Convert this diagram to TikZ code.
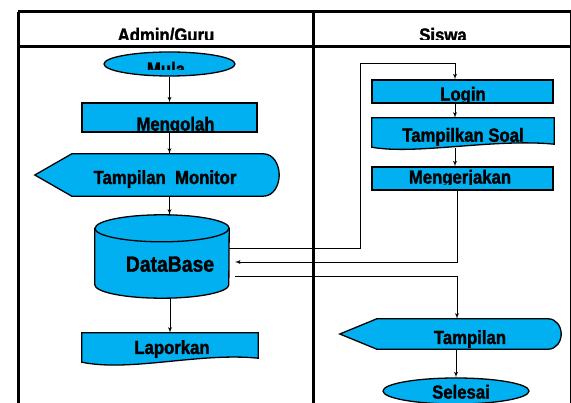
\documentclass[tikz,border=0pt]{standalone}
\usepackage{fontspec}
\setmainfont{Liberation Sans}[FakeStretch=0.88,BoldFeatures={FakeBold=1.5}]
\usepackage{tikz}
\usetikzlibrary{arrows}
\usetikzlibrary{shapes.geometric}
\definecolor{boxblue}{RGB}{0,176,240}

% text that is cut off below a given height
\newcommand{\cuttext}[5]{%
\begin{scope}
\clip (#2-110,#4) rectangle (#2+110,#4+40);
\node[boxtext,anchor=base] (#1) at (#2,#3) {#5};
\end{scope}}

\begin{document}
\begin{tikzpicture}[x=1pt,y=1pt]
\tikzset{proc/.style = {shape=rectangle,draw,fill=boxblue,line width=1.3pt,inner sep=0pt}}
\tikzset{term/.style = {shape=ellipse,draw,fill=boxblue,line width=1.3pt,inner sep=0pt}}
\tikzset{frame/.style = {shape=rectangle,inner sep=0pt}}
\tikzset{shapeline/.style = {draw,fill=boxblue,line width=1.3pt}}
\tikzset{boxtext/.style = {font=\bfseries\fontsize{19pt}{19pt}\selectfont,inner sep=0pt}}
\tikzset{edge/.style = {->,> = latex',line width=0.9pt}}
\tikzset{lane/.style = {line width=3pt}}

\useasboundingbox (0,0) rectangle (571,-403);

% swimlanes
\draw[lane] (18,-12) -- (571,-12);
\draw[lane] (18,-47) -- (570,-47);
\draw[lane] (18,-12) -- (18,-403);
\draw[lane] (313,-12) -- (313,-403);
\draw[line width=0.8pt] (570,-12) -- (570,-403);
\cuttext{admin}{166}{-41.6}{-39.5}{Admin/Guru}
\cuttext{siswa}{443}{-41.6}{-39.5}{Siswa}

\node[term,minimum width=131pt,minimum height=24pt] (mula) at (169.5,-64) {};
\node[proc,minimum width=175pt,minimum height=29pt] (mengolah) at (169.5,-117.5) {};
\node[frame,minimum width=244pt,minimum height=42pt] (monitor) at (157,-175) {};
\node[frame,minimum width=134pt,minimum height=83pt] (db) at (162,-256.5) {};
\node[frame,minimum width=176pt,minimum height=33pt] (laporkan) at (170,-349.5) {};
\node[proc,minimum width=181pt,minimum height=23pt] (login) at (462.5,-91.5) {};
\node[frame,minimum width=182pt,minimum height=32pt] (soal) at (463,-134) {};
\node[proc,minimum width=181pt,minimum height=23pt] (kerja) at (462.5,-178.5) {};
\node[frame,minimum width=221pt,minimum height=30pt] (tampil) at (450.5,-334) {};
\node[term,minimum width=146pt,minimum height=26pt] (selesai) at (456,-391) {};

% display shapes
\filldraw[shapeline] (monitor.west) -- ([xshift=37pt]monitor.north west)
  -- ([xshift=-16pt]monitor.north east) to[out=0,in=90] (monitor.east)
  to[out=-90,in=0] ([xshift=-16pt]monitor.south east)
  -- ([xshift=37pt]monitor.south west) -- cycle;
\filldraw[shapeline] (tampil.west) -- ([xshift=37pt]tampil.north west)
  -- ([xshift=-13pt]tampil.north east) to[out=0,in=90] (tampil.east)
  to[out=-90,in=0] ([xshift=-13pt]tampil.south east)
  -- ([xshift=37pt]tampil.south west) -- cycle;

% database
\filldraw[shapeline] ([yshift=-13.5pt]db.north west) -- ([yshift=13.5pt]db.south west)
  arc[start angle=180,end angle=360,x radius=67pt,y radius=13.5pt]
  -- ([yshift=-13.5pt]db.north east)
  arc[start angle=0,end angle=180,x radius=67pt,y radius=13.5pt] -- cycle;
\draw[line width=1.3pt] ([yshift=-13.5pt]db.north west)
  arc[start angle=180,end angle=360,x radius=67pt,y radius=13.5pt];

% documents
\filldraw[shapeline] (laporkan.north west) -- (laporkan.north east)
  -- ([yshift=8pt]laporkan.south east)
  .. controls ([xshift=-58pt,yshift=14pt]laporkan.south east) and ([xshift=48pt,yshift=-6pt]laporkan.south west) .. ([yshift=4pt]laporkan.south west) -- cycle;
\filldraw[shapeline] (soal.north west) -- (soal.north east)
  -- ([yshift=6pt]soal.south east)
  .. controls ([xshift=-59pt,yshift=12pt]soal.south east) and ([xshift=43pt,yshift=-5pt]soal.south west) .. ([yshift=3pt]soal.south west) -- cycle;

% labels
\cuttext{mulatxt}{166}{-75.6}{-70}{Mula}
\cuttext{mengolahtxt}{175.5}{-130.6}{-131}{Mengolah}
\node[boxtext,anchor=base] (monitortxt) at (165,-184) {Tampilan\ \ Monitor};
\node[boxtext,anchor=base,font=\bfseries\fontsize{22pt}{22pt}\selectfont] (dbtxt) at (170,-271.7) {DataBase};
\node[boxtext,anchor=base] (laporkantxt) at (172,-354) {Laporkan};
\cuttext{logintxt}{463}{-100.6}{-101.7}{Login}
\node[boxtext,anchor=base] (soaltxt) at (463,-141.7) {Tampilkan Soal};
\cuttext{kerjatxt}{460}{-183.6}{-185}{Mengerjakan}
\node[boxtext,anchor=base] (tampiltxt) at (470,-344) {Tampilan};
\node[boxtext,anchor=base] (selesaitxt) at (461,-398.6) {Selesai};

\coordinate (up) at (360,-63);
\coordinate (dbin) at (235,-262);
\coordinate (dbout) at (235,-276);

\draw[edge] (mula) to (mengolah);
\draw[edge] (mengolah.south) to (mengolah.south |- monitor.north);
\draw[edge] (mengolah.south |- monitor.south) to (mengolah.south |- db.north);
\draw[edge] (laporkan.north |- db.south) to (laporkan.north);
\draw[edge] ([yshift=8.5pt]db.east) -| (up) -| ([xshift=-7.5pt]login.north);
\draw[edge] ([xshift=-7.5pt]login.south) to ([xshift=-8pt]soal.north);
\draw[edge] ([xshift=-8pt,yshift=2pt]soal.south) to ([xshift=-7.5pt]kerja.north);
\draw[edge] ([xshift=-5.5pt]kerja.south) |- (dbin);
\draw[edge] (dbout) -| ([xshift=6.5pt]tampil.north);
\draw[edge] (selesai.north |- tampil.south) to (selesai.north);

\end{tikzpicture}
\end{document}
